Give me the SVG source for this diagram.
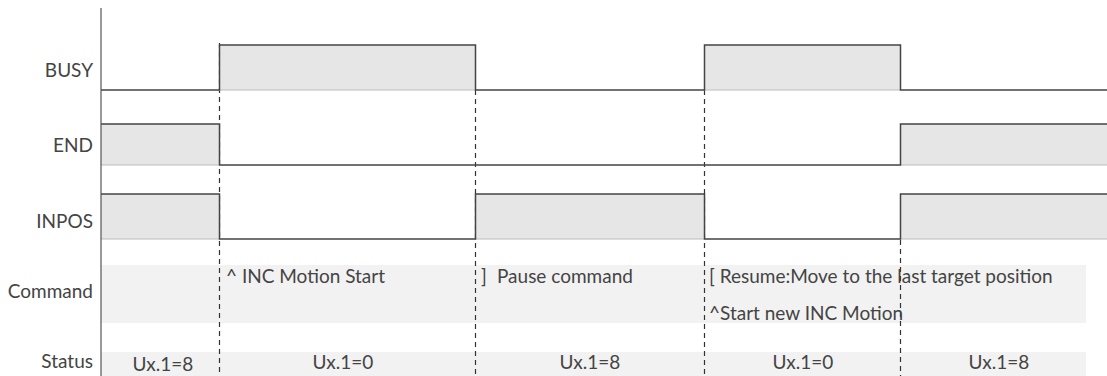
<svg xmlns="http://www.w3.org/2000/svg" width="1107" height="376" viewBox="0 0 1107 376">
<style>
text{font-family:Lato,"Open Sans","Liberation Sans",sans-serif;font-size:19px;fill:#444}
.lbl{text-anchor:end}
.mid{text-anchor:middle}
.hi{fill:#e6e6e6}
.base{stroke:#bbb;stroke-width:1.2;fill:none}
.wave{stroke:#444;stroke-width:1.5;fill:none}
.dash{stroke:#333;stroke-width:1.2;stroke-dasharray:5 4;fill:none}
.band{fill:#f2f2f2}
</style>
<rect width="1107" height="376" fill="#fff"/>
<g id="bands">
<rect class="band" x="101" y="265" width="985" height="58"/>
<rect class="band" x="101" y="352" width="985" height="24"/>
</g>
<g id="connectors">
<line class="dash" x1="219.5" y1="43" x2="219.5" y2="376"/>
<line class="dash" x1="475.5" y1="90" x2="475.5" y2="376"/>
<line class="dash" x1="704.5" y1="90" x2="704.5" y2="376"/>
<line class="dash" x1="900.5" y1="240" x2="900.5" y2="376"/>
</g>
<g id="busy">
<rect class="hi" x="219" y="45" width="256" height="45"/>
<rect class="hi" x="704" y="45" width="196" height="45"/>
<path class="base" d="M219,90 H475 M704,90 H900"/>
<path class="wave" d="M101,90 H219.5 V45 H475.5 V90 H704.5 V45 H900.5 V90 H1107"/>
<text class="lbl" x="93" y="77">BUSY</text>
</g>
<g id="end">
<rect class="hi" x="101" y="124" width="118" height="41"/>
<rect class="hi" x="900" y="124" width="207" height="41"/>
<path class="base" d="M101,165 H219 M900,165 H1107"/>
<path class="wave" d="M101,124 H219.5 V165 H900.5 V124 H1107"/>
<text class="lbl" x="93" y="152">END</text>
</g>
<g id="inpos">
<rect class="hi" x="101" y="194" width="118" height="45"/>
<rect class="hi" x="475" y="194" width="229" height="45"/>
<rect class="hi" x="900" y="194" width="207" height="45"/>
<path class="base" d="M101,239 H219 M475,239 H704 M900,239 H1107"/>
<path class="wave" d="M101,194 H219.5 V239 H475.5 V194 H704.5 V239 H900.5 V194 H1107"/>
<text class="lbl" x="93" y="228">INPOS</text>
</g>
<g id="command">
<text class="lbl" x="93" y="298">Command</text>
<text x="226" y="283">^ INC Motion Start</text>
<text x="481" y="283">]<tspan x="497">Pause command</tspan></text>
<text x="709" y="283">[ Resume:Move to the last target position</text>
<text x="709" y="320">^Start new INC Motion</text>
</g>
<g id="status">
<text class="lbl" x="93" y="368">Status</text>
<text class="mid" x="163" y="371">Ux.1=8</text>
<text class="mid" x="343" y="369">Ux.1=0</text>
<text class="mid" x="590" y="369">Ux.1=8</text>
<text class="mid" x="803" y="369">Ux.1=0</text>
<text class="mid" x="999" y="369">Ux.1=8</text>
</g>
<line x1="101" y1="8" x2="101" y2="376" stroke="#555" stroke-width="1.2"/>
</svg>
